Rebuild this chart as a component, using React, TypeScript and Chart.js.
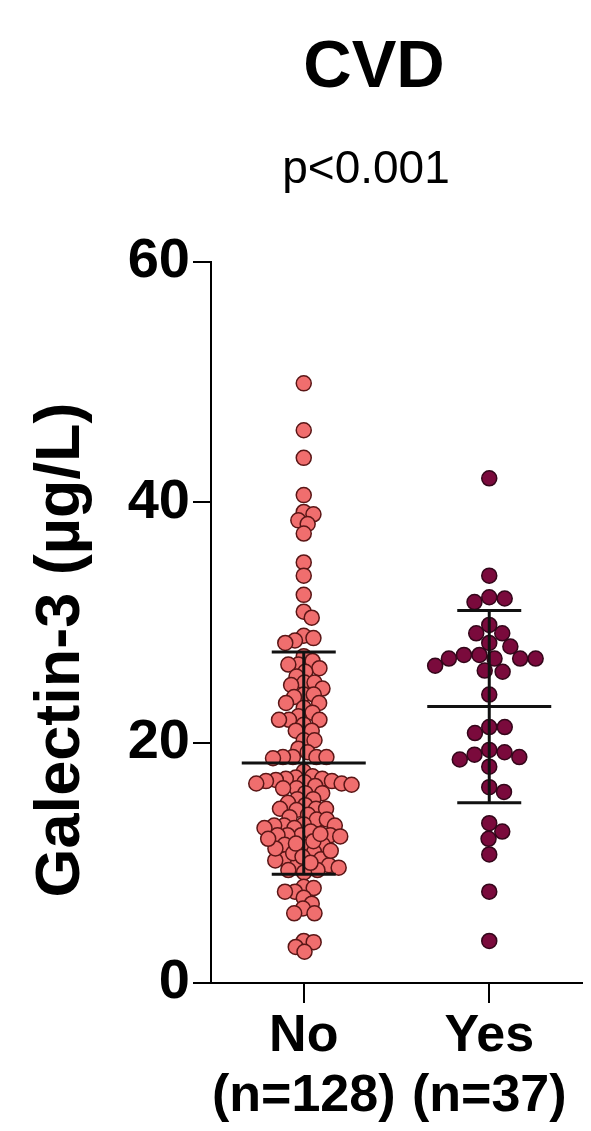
import React, { useEffect, useRef } from "react";
import { Chart, registerables } from "chart.js";

Chart.register(...registerables);

// ---------------- data ----------------
const categories = ["No", "Yes"];
const categoryCounts = ["(n=128)", "(n=37)"];

const noValues = [
  49.9, 46.0, 43.7, 40.6, 39.2, 39.0, 38.5, 38.2, 37.4, 35.0, 33.9, 32.3, 30.9, 30.4, 28.9, 28.7, 28.5, 28.3,
  27.2, 26.8, 26.5, 26.5, 26.2, 25.9, 25.5, 25.0, 25.0, 24.8, 24.5, 24.0, 24.0, 23.8, 23.3, 23.3, 22.9, 22.5,
  22.2, 21.9, 21.9, 21.9, 21.5, 21.0, 21.0, 20.2, 20.2, 19.5, 19.2, 18.8, 18.8, 18.8, 18.8, 18.7,
  17.6, 17.2, 17.1, 17.0, 17.0, 16.9, 16.8, 16.8, 16.7, 16.6, 16.6, 16.5, 16.4, 16.2, 16.2, 15.8, 15.8,
  15.3, 15.3, 15.0, 14.8, 14.5, 14.5, 14.5, 14.4, 14.0, 13.8, 13.6, 13.6, 13.2, 13.1, 13.1, 13.1, 12.9, 12.9,
  12.3, 12.3, 12.3, 12.3, 12.2, 11.5, 11.5, 11.3, 10.9, 10.3, 10.3, 9.8, 9.8, 9.6, 9.4, 9.4,
  10.2, 10.8, 12.6, 11.8, 11.0, 11.6, 12.4, 10.5, 11.2, 12.0, 9.2, 10.0,
  8.0, 7.9, 7.6, 7.6, 7.1, 6.6, 6.2, 5.8, 5.8, 3.5, 3.4, 3.0, 2.6,
];

const yesValues = [
  42.0, 33.9, 32.0, 31.7, 32.1, 29.8, 29.1, 29.1, 28.3, 28.0, 27.0, 27.3, 27.0, 26.0, 27.3, 25.9, 26.4, 27.0,
  27.0, 24.0, 21.3, 21.3, 20.8, 19.4, 18.8, 18.6, 19.0, 19.2, 18.0, 16.3, 15.9, 13.3, 12.6, 12.0, 10.7, 7.6, 3.5,
];

const groupMeans = [18.3, 23.0];
const groupSDs = [9.25, 8.0];
const yTickValues = [0, 20, 40, 60];

const titleText = "CVD";
const subtitleText = "p<0.001";
const yAxisTitle = "Galectin-3 (µg/L)";

// ---------------- styling ----------------
const FONT = "'Liberation Sans', Arial, Helvetica, sans-serif";
const W = 591;
const H = 1131;

// beeswarm offsets (pixel space), points sorted by vertical position
function swarmOffsets(ys: number[], D: number): number[] {
  const idx = ys.map((_, i) => i).sort((a, b) => ys[a] - ys[b]);
  const placed: { x: number; y: number }[] = [];
  const off = new Array(ys.length).fill(0);
  for (const i of idx) {
    const y = ys[i];
    const near = placed.filter((p) => Math.abs(p.y - y) < D);
    const cands = [0];
    for (const p of near) {
      const dx = Math.sqrt(D * D - (p.y - y) * (p.y - y));
      cands.push(p.x + dx, p.x - dx);
    }
    cands.sort((a, b) => Math.abs(a) - Math.abs(b));
    let best = 0;
    for (const c of cands) {
      if (near.every((p) => (p.x - c) * (p.x - c) + (p.y - y) * (p.y - y) >= D * D - 0.01)) {
        best = c;
        break;
      }
    }
    off[i] = best;
    placed.push({ x: best, y });
  }
  return off;
}

const overlayPlugin = {
  id: "overlay",
  afterDatasetsDraw(chart: any) {
    const { ctx } = chart;
    const x = chart.scales.x;
    const y = chart.scales.y;
    ctx.save();
    ctx.strokeStyle = "#111";
    ctx.lineWidth = 3;
    groupMeans.forEach((m, g) => {
      const cx = x.getPixelForValue(g);
      const yM = y.getPixelForValue(m);
      const yU = y.getPixelForValue(m + groupSDs[g]);
      const yL = y.getPixelForValue(m - groupSDs[g]);
      ctx.beginPath();
      ctx.moveTo(cx, yU);
      ctx.lineTo(cx, yL);
      ctx.moveTo(cx - 62, yM);
      ctx.lineTo(cx + 62, yM);
      ctx.moveTo(cx - 32, yU);
      ctx.lineTo(cx + 32, yU);
      ctx.moveTo(cx - 32, yL);
      ctx.lineTo(cx + 32, yL);
      ctx.stroke();
    });
    ctx.restore();
  },
  afterDraw(chart: any) {
    const { ctx } = chart;
    ctx.save();
    ctx.fillStyle = "#000";
    ctx.textAlign = "center";
    ctx.textBaseline = "alphabetic";
    ctx.font = `bold 67px ${FONT}`;
    ctx.fillText(titleText, 374, 87);
    ctx.font = `46px ${FONT}`;
    ctx.fillText(subtitleText, 366, 183);
    ctx.translate(79, 650);
    ctx.rotate(-Math.PI / 2);
    ctx.font = `bold 63px ${FONT}`;
    ctx.fillText(yAxisTitle, 0, 0);
    ctx.restore();
  },
};

export default function App() {
  const ref = useRef<HTMLCanvasElement | null>(null);

  useEffect(() => {
    if (!ref.current) return;
    const chart = new Chart(ref.current, {
      type: "scatter",
      data: {
        datasets: [
          {
            label: categories[0],
            data: noValues.map((v) => ({ x: 0, y: v })),
            backgroundColor: "#F06E6E",
            borderColor: "#5A1616",
            borderWidth: 1.5,
            pointRadius: 7.5,
          },
          {
            label: categories[1],
            data: yesValues.map((v) => ({ x: 1, y: v })),
            backgroundColor: "#7A0A3C",
            borderColor: "#33061A",
            borderWidth: 1.5,
            pointRadius: 7.5,
          },
        ],
      },
      options: {
        responsive: false,
        animation: false,
        devicePixelRatio: 1,
        layout: { padding: { top: 262, right: 4, left: 0, bottom: 0 } },
        plugins: {
          legend: { display: false },
          tooltip: { enabled: false },
          title: { display: false },
        },
        scales: {
          x: {
            type: "linear",
            min: -0.5,
            max: 1.5,
            afterBuildTicks: (scale: any) => {
              scale.ticks = categories.map((_, i) => ({ value: i }));
            },
            afterFit: (scale: any) => {
              scale.height = H - 983;
            },
            ticks: {
              autoSkip: false,
              maxRotation: 0,
              minRotation: 0,
              color: "#000",
              padding: 4,
              font: { family: FONT, size: 52, weight: "bold", lineHeight: 1.15 },
              callback: (v: any) => {
                const i = Math.round(Number(v));
                return [categories[i], categoryCounts[i]];
              },
            },
            grid: {
              drawOnChartArea: false,
              drawTicks: true,
              tickLength: 20,
              color: "#000",
              lineWidth: 2,
            },
            border: { display: true, color: "#000", width: 2 },
          },
          y: {
            min: 0,
            max: 60,
            afterBuildTicks: (scale: any) => {
              scale.ticks = yTickValues.map((v) => ({ value: v }));
            },
            afterFit: (scale: any) => {
              scale.width = 211;
            },
            ticks: {
              color: "#000",
              padding: 3,
              font: { family: FONT, size: 56, weight: "bold" },
            },
            grid: {
              drawOnChartArea: false,
              drawTicks: true,
              tickLength: 18,
              color: "#000",
              lineWidth: 2,
            },
            border: { display: true, color: "#000", width: 2 },
          },
        },
      },
      plugins: [overlayPlugin],
    });

    // beeswarm placement using the chart's own scales
    const xs = chart.scales.x;
    const ys = chart.scales.y;
    const groups = [noValues, yesValues];
    const spacing = [10, 15.5];
    groups.forEach((vals, g) => {
      const py = vals.map((v) => ys.getPixelForValue(v));
      const offs = swarmOffsets(py, spacing[g]);
      const cx = xs.getPixelForValue(g);
      (chart.data.datasets[g].data as any[]).forEach((pt, i) => {
        pt.x = xs.getValueForPixel(cx + offs[i]);
      });
    });
    chart.update("none");

    return () => chart.destroy();
  }, []);

  return (
    <div style={{ position: "fixed", left: 0, top: 0, width: W, height: H, background: "#fff" }}>
      <canvas ref={ref} width={W} height={H} style={{ display: "block", width: W, height: H }} />
    </div>
  );
}
